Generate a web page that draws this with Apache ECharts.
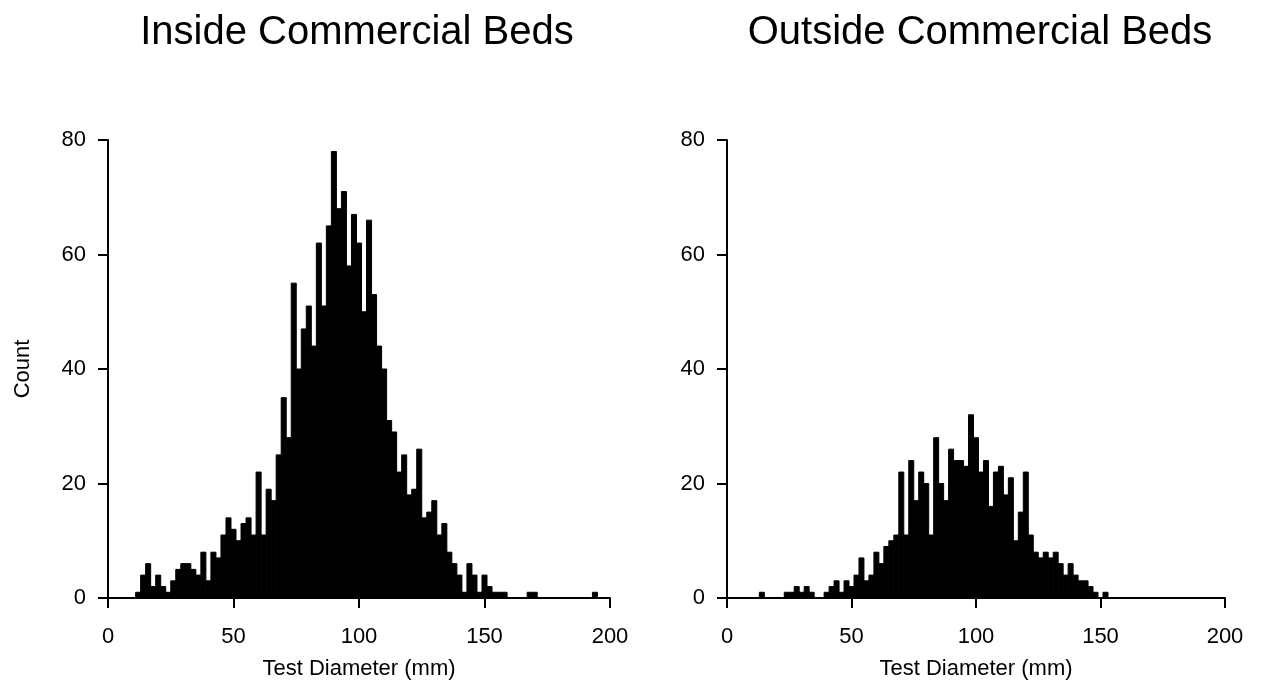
<!DOCTYPE html>
<html>
<head>
<meta charset="utf-8">
<script src="https://cdn.jsdelivr.net/npm/echarts@6/dist/echarts.min.js"></script>
<style>
html,body{margin:0;padding:0;background:#fff;}
#chart{width:1262px;height:696px;}
</style>
</head>
<body>
<div id="chart"></div>
<script>
// Bin centres (mm, 2 mm bins) and counts
var insideBins   = [12,14,16,18,20,22,24,26,28,30,32,34,36,38,40,42,44,46,48,50,52,54,56,58,60,62,64,66,68,70,72,74,76,78,80,82,84,86,88,90,92,94,96,98,100,102,104,106,108,110,112,114,116,118,120,122,124,126,128,130,132,134,136,138,140,142,144,146,148,150,152,154,156,158,168,170,194];
var insideCounts = [1,4,6,2,4,2,1,3,5,6,6,5,4,8,3,8,7,11,14,12,10,13,14,11,22,11,19,17,25,35,28,55,40,47,51,44,62,51,65,78,68,71,58,67,62,50,66,53,44,40,31,29,22,25,18,19,26,14,15,17,11,13,8,6,4,1,6,4,1,4,2,1,1,1,1,1,1];

var outsideBins   = [14,24,26,28,30,32,34,40,42,44,46,48,50,52,54,56,58,60,62,64,66,68,70,72,74,76,78,80,82,84,86,88,90,92,94,96,98,100,102,104,106,108,110,112,114,116,118,120,122,124,126,128,130,132,134,136,138,140,142,144,146,148,152];
var outsideCounts = [1,1,1,2,1,2,1,1,2,3,1,3,2,4,7,3,4,8,6,9,10,11,22,11,24,17,22,20,11,28,20,17,26,24,24,23,32,28,22,24,16,22,23,18,21,10,15,22,11,8,7,8,7,8,6,4,6,4,3,3,2,1,1];

var xTicks = [0,50,100,150,200];
var yTicks = [0,20,40,60,80];
var titles = ['Inside Commercial Beds','Outside Commercial Beds'];
var xTitle = 'Test Diameter (mm)';
var yTitle = 'Count';
var binWidth = 2;

function toData(bins, counts){
  var d = [];
  for (var i = 0; i < bins.length; i++) d.push([bins[i], counts[i]]);
  return d;
}

function renderBar(params, api){
  var x = api.value(0), y = api.value(1);
  var p0 = api.coord([x - binWidth/2, y]);
  var p1 = api.coord([x + binWidth/2, 0]);
  return {
    type: 'rect',
    shape: {x: p0[0], y: p0[1], width: p1[0]-p0[0], height: p1[1]-p0[1]},
    style: {fill: '#000', stroke: '#000', lineWidth: 1}
  };
}

var font = 'Liberation Sans, Arial, Helvetica, sans-serif';

function xAxisCfg(idx){
  return {
    gridIndex: idx, type: 'value', min: xTicks[0], max: xTicks[xTicks.length-1], interval: 50,
    name: xTitle, nameLocation: 'middle', nameGap: 60,
    nameTextStyle: {fontFamily: font, fontSize: 22, color: '#000'},
    axisLine: {show: true, onZero: false, lineStyle: {color: '#000', width: 2}},
    axisTick: {show: true, inside: false, length: 10, lineStyle: {color: '#000', width: 2}},
    axisLabel: {fontFamily: font, fontSize: 22, color: '#000', margin: 28},
    splitLine: {show: false}
  };
}
function yAxisCfg(idx, withName){
  return {
    gridIndex: idx, type: 'value', min: yTicks[0], max: yTicks[yTicks.length-1], interval: 20,
    name: withName ? yTitle : '', nameLocation: 'middle', nameGap: 74, nameRotate: 90,
    nameTextStyle: {fontFamily: font, fontSize: 22, color: '#000'},
    axisLine: {show: true, lineStyle: {color: '#000', width: 2}},
    axisTick: {show: true, inside: false, length: 10, lineStyle: {color: '#000', width: 2}},
    axisLabel: {fontFamily: font, fontSize: 22, color: '#000', margin: 22},
    splitLine: {show: false}
  };
}

var chart = echarts.init(document.getElementById('chart'), null, {renderer: 'canvas'});
chart.setOption({
  backgroundColor: '#fff',
  animation: false,
  title: [
    {text: titles[0], left: 352, top: 8, textAlign: 'center', textStyle: {fontFamily: font, fontSize: 40, fontWeight: 'normal', color: '#000'}},
    {text: titles[1], left: 975, top: 8, textAlign: 'center', textStyle: {fontFamily: font, fontSize: 40, fontWeight: 'normal', color: '#000'}}
  ],
  grid: [
    {left: 108, top: 140, width: 502, height: 458},
    {left: 727, top: 140, width: 498, height: 458}
  ],
  xAxis: [xAxisCfg(0), xAxisCfg(1)],
  yAxis: [yAxisCfg(0, true), yAxisCfg(1, false)],
  series: [
    {type: 'custom', xAxisIndex: 0, yAxisIndex: 0, renderItem: renderBar, data: toData(insideBins, insideCounts), clip: false},
    {type: 'custom', xAxisIndex: 1, yAxisIndex: 1, renderItem: renderBar, data: toData(outsideBins, outsideCounts), clip: false}
  ]
});
</script>
</body>
</html>
